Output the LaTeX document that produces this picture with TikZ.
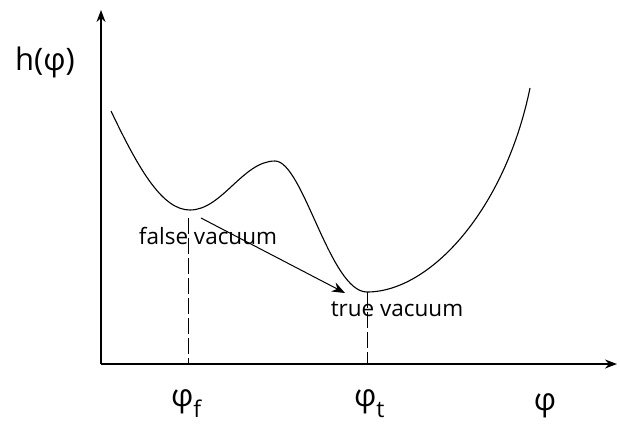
\documentclass[tikz,border=0pt]{standalone}
\usepackage{fontspec}
\setmainfont{Open Sans}
\usepackage{tikz}
\usetikzlibrary{positioning,calc,arrows.meta}

\newcommand{\lowsub}[1]{\raisebox{-11pt}{\fontsize{23}{26}\selectfont #1}}

\begin{document}
\begin{tikzpicture}[x=1pt,y=-1pt,
  axis/.style={line width=1.3pt, -{Stealth[length=12pt,width=9pt]}},
  vline/.style={line width=1pt, dash pattern=on 16pt off 4pt},
  lbl/.style={font=\fontsize{22.5}{26}\selectfont, inner sep=0pt},
  big/.style={font=\fontsize{31}{35}\selectfont, inner sep=0pt}]
\useasboundingbox (0,0) rectangle (620,432);
%% axes
\coordinate (O) at (101,364);
\coordinate (ytop) at (101,10);
\coordinate (xend) at (617,364);
\draw[axis] (O) -- (ytop);
\draw[axis] (O) -- (xend);
\node[big] (hlab) at (45,62) {h(φ)};
%% potential curve
\coordinate (start) at (111,111);
\coordinate (fmin) at (190,210);
\coordinate (bump) at (275,161);
\coordinate (tmin) at (367,292);
\coordinate (finish) at (530,88);
\draw[line width=1.1pt] (start) .. controls (140,172) and (163,210) .. (fmin)
  .. controls (222,210) and (243,161) .. (bump)
  .. controls (303,161) and (330,292) .. (tmin)
  .. controls (430,292) and (505,210) .. (finish);
%% vacua
\coordinate (ftop) at (188,218);
\coordinate (fbot) at (188,364);
\coordinate (ttop) at (367,292);
\coordinate (tbot) at (367,364);
\draw[vline] (ftop) -- (fbot);
\draw[vline] (ttop) -- (tbot);
\node[lbl] (false) at (208,236) {false vacuum};
\node[lbl] (true) at (397,309) {true vacuum};
\coordinate (arrs) at (201,218);
\coordinate (arre) at (345,293);
\draw[line width=1pt, -{Stealth[length=13pt,width=10pt]}] (arrs) -- (arre);
%% axis labels
\node[big, anchor=west] (phif) at (171,404) {φ\lowsub{f}};
\node[big, anchor=west] (phit) at (354,404) {φ\lowsub{t}};
\node[big] (phi) at (545,406) {φ};
\end{tikzpicture}
\end{document}
